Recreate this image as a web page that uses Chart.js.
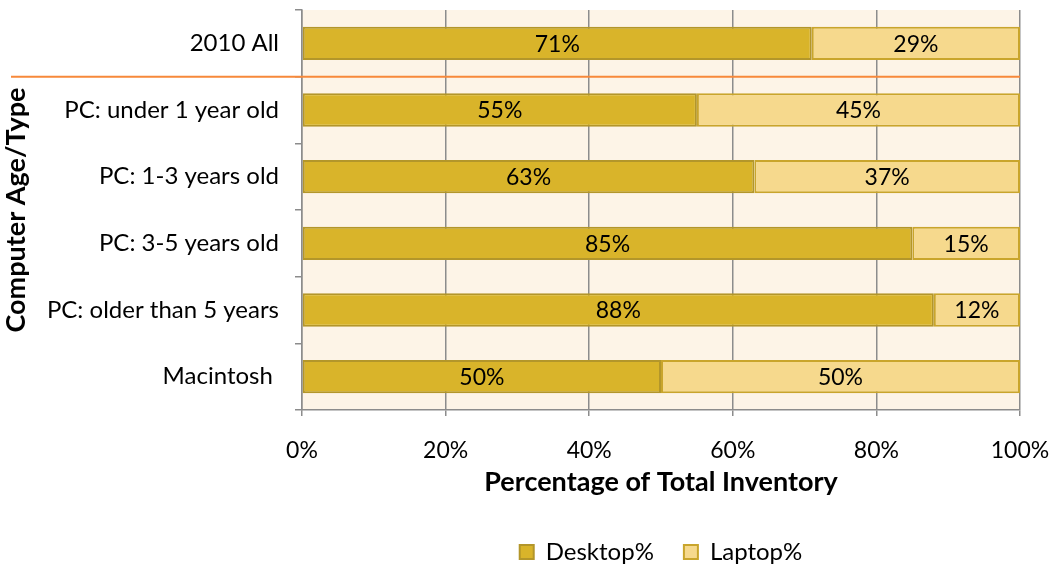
<!DOCTYPE html>
<html><head><meta charset="utf-8">
<script src="https://cdn.jsdelivr.net/npm/chart.js@4/dist/chart.umd.min.js"></script>
<style>html,body{margin:0;padding:0;background:#fff;}#wrap{width:1052px;height:567px;overflow:hidden;}</style>
</head><body><div id="wrap"><canvas id="c" width="1052" height="567"></canvas></div>
<script>
const categories = ['2010 All', 'PC: under 1 year old', 'PC: 1-3 years old', 'PC: 3-5 years old', 'PC: older than 5 years', 'Macintosh '];
const desktopPct = [71, 55, 63, 85, 88, 50];
const laptopPct = [29, 45, 37, 15, 12, 50];
const xTicks = ['0%', '20%', '40%', '60%', '80%', '100%'];

const FONT = 'Lato, "Open Sans", sans-serif';

const bgPlugin = {
  id: 'bg',
  beforeDraw(chart) {
    const {ctx, chartArea: a} = chart;
    ctx.save();
    ctx.fillStyle = '#FDF4E7';
    ctx.fillRect(a.left, a.top, a.right - a.left, a.bottom - a.top);
    ctx.restore();
  }
};

const sepPlugin = {
  id: 'sep',
  afterDatasetsDraw(chart) {
    const {ctx, chartArea: a, scales} = chart;
    const y = (scales.y.getPixelForValue(0) + scales.y.getPixelForValue(1)) / 2;
    ctx.save();
    ctx.strokeStyle = '#F7893A';
    ctx.lineWidth = 2;
    ctx.beginPath();
    ctx.moveTo(11, y);
    ctx.lineTo(a.right, y);
    ctx.stroke();
    ctx.restore();
  }
};

const labelPlugin = {
  id: 'lbls',
  afterDatasetsDraw(chart) {
    const {ctx} = chart;
    ctx.save();
    ctx.font = '23px ' + FONT;
    ctx.fillStyle = '#000';
    ctx.textAlign = 'center';
    ctx.textBaseline = 'middle';
    chart.data.datasets.forEach((ds, di) => {
      chart.getDatasetMeta(di).data.forEach((el, i) => {
        const p = el.getProps(['x', 'y', 'base']);
        ctx.fillText(ds.data[i] + '%', (p.x + p.base) / 2, p.y + 1);
      });
    });
    ctx.restore();
  }
};

new Chart(document.getElementById('c'), {
  type: 'bar',
  data: {
    labels: categories,
    datasets: [
      {label: 'Desktop%', data: desktopPct, backgroundColor: '#D9B42A', borderColor: '#B3962A', borderWidth: 2, borderSkipped: false},
      {label: 'Laptop%', data: laptopPct, backgroundColor: '#F6D98D', borderColor: '#C9A52C', borderWidth: 2, borderSkipped: false}
    ]
  },
  options: {
    indexAxis: 'y',
    responsive: false,
    animation: false,
    devicePixelRatio: 1,
    layout: {padding: {top: 10, right: 32, left: 0, bottom: -7}},
    datasets: {bar: {categoryPercentage: 1, barPercentage: 0.5}},
    scales: {
      x: {
        stacked: true, min: 0, max: 100,
        afterBuildTicks(s) { s.ticks = [0,20,40,60,80,100].map(v => ({value: v})); },
        ticks: {color: '#000', font: {family: FONT, size: 23}, padding: 21,
          callback: (v, i) => xTicks[i]},
        grid: {color: '#8C8C8C', lineWidth: 1.5, drawTicks: true, tickLength: 6},
        border: {color: '#8C8C8C', width: 1.5},
        title: {display: true, text: 'Percentage of Total Inventory', color: '#000',
          font: {family: FONT, size: 27, weight: 'bold'}, padding: {top: 0, bottom: 12}},
        afterFit(s) { s.height = 100; s.paddingLeft = 0; s.paddingRight = 0; }
      },
      y: {
        stacked: true,
        ticks: {color: '#000', font: {family: FONT, size: 24}, padding: 16},
        grid: {display: true, drawOnChartArea: false, offset: true, color: '#8C8C8C', lineWidth: 1.5, tickLength: 7},
        border: {color: '#8C8C8C', width: 1.5},
        title: {display: true, text: 'Computer Age/Type', color: '#000',
          font: {family: FONT, size: 27, weight: 'bold'}, padding: {top: 0, bottom: 0}},
        afterFit(s) { s.width = 302; s.paddingTop = 0; s.paddingBottom = 0; }
      }
    },
    plugins: {
      legend: {
        position: 'bottom', fullSize: false,
        labels: {color: '#000', font: {family: FONT, size: 24}, boxWidth: 14, boxHeight: 14, padding: 30,
          generateLabels(chart) {
            return chart.data.datasets.map((d, i) => ({text: d.label, fillStyle: d.backgroundColor, strokeStyle: d.borderColor, lineWidth: 2, datasetIndex: i, fontColor: '#000'}));
          }}
      },
      tooltip: {enabled: false}
    }
  },
  plugins: [bgPlugin, sepPlugin, labelPlugin]
});
</script></body></html>
